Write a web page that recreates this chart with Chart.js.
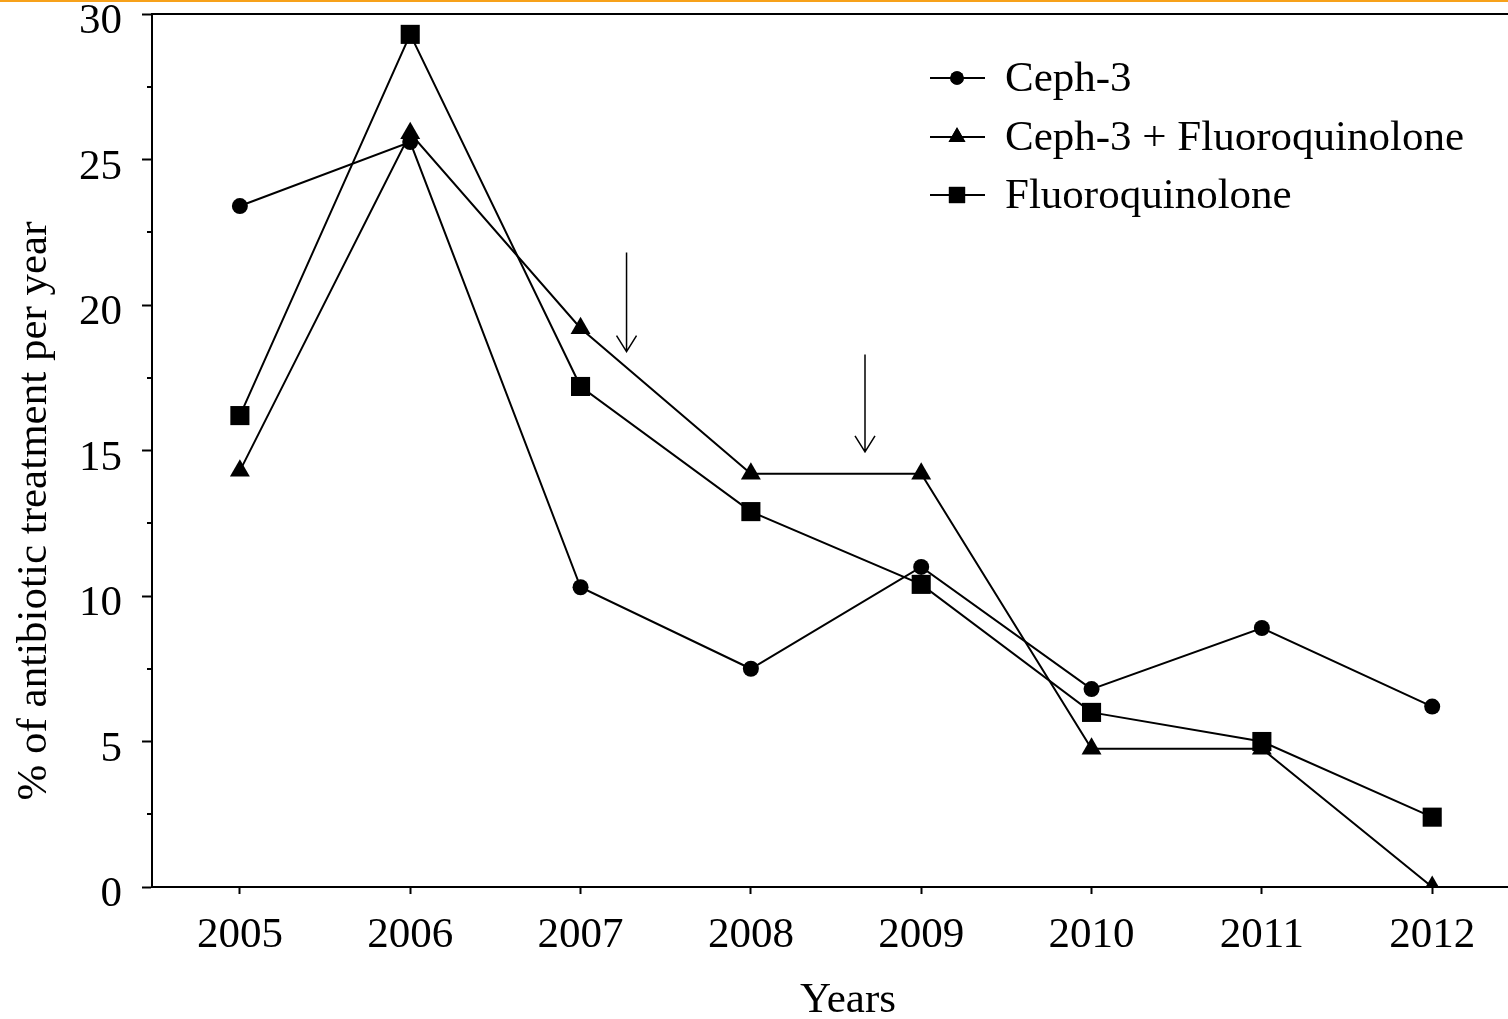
<!DOCTYPE html>
<html>
<head>
<meta charset="utf-8">
<title>Antibiotic treatment per year</title>
<script src="https://cdn.jsdelivr.net/npm/chart.js@4/dist/chart.umd.min.js"></script>
<style>
  html, body { margin: 0; padding: 0; background: #fff; overflow: hidden; }
  .topline { position: absolute; left: 0; top: 0; width: 1508px; height: 2px; background: #F7A11A; }
  .wrap { position: absolute; left: 0; top: 0; width: 1508px; height: 1019px; }
</style>
</head>
<body>
<div class="wrap"><canvas id="chart"></canvas></div>
<div class="topline"></div>
<script>
// Data
const years = [2005, 2006, 2007, 2008, 2009, 2010, 2011, 2012];
const ceph3 = [23.4, 25.6, 10.3, 7.5, 11.0, 6.8, 8.9, 6.2];
const ceph3Fq = [14.3, 25.9, 19.2, 14.2, 14.2, 4.75, 4.75, 0];
const fluoroq = [16.2, 29.3, 17.2, 12.9, 10.4, 6.0, 5.0, 2.4];
const yTicks = [0, 5, 10, 15, 20, 25, 30];
const yMinorTicks = [2.5, 7.5, 12.5, 17.5, 22.5, 27.5];

// Arrows marking interventions: [x, yFrom, yTo]
const arrows = [
  [2007.27, 21.8, 18.4],
  [2008.67, 18.3, 14.95]
];

const FONT = '"Liberation Serif", "Times New Roman", serif';
const FONT_SIZE = 43;

function toPoints(values) {
  return years.map((yr, i) => ({ x: yr, y: values[i] }));
}

// Minor ticks, top border, arrows, legend and axis titles
const extras = {
  id: 'extras',
  afterDraw(chart) {
    const ctx = chart.ctx;
    const area = chart.chartArea;
    const xs = chart.scales.x;
    const ys = chart.scales.y;
    ctx.save();
    ctx.strokeStyle = '#000';
    ctx.fillStyle = '#000';

    // top border
    ctx.lineWidth = 2;
    ctx.beginPath();
    ctx.moveTo(area.left, area.top);
    ctx.lineTo(area.right, area.top);
    ctx.stroke();

    // minor y ticks
    yMinorTicks.forEach(v => {
      const py = Math.round(ys.getPixelForValue(v));
      ctx.beginPath();
      ctx.moveTo(area.left - 5, py);
      ctx.lineTo(area.left, py);
      ctx.stroke();
    });

    // arrows
    ctx.lineWidth = 1.5;
    arrows.forEach(a => {
      const px = xs.getPixelForValue(a[0]);
      const y1 = ys.getPixelForValue(a[1]);
      const y2 = ys.getPixelForValue(a[2]);
      ctx.beginPath();
      ctx.moveTo(px, y1);
      ctx.lineTo(px, y2);
      ctx.moveTo(px - 10, y2 - 16);
      ctx.lineTo(px, y2);
      ctx.lineTo(px + 10, y2 - 16);
      ctx.stroke();
    });

    // legend
    ctx.font = FONT_SIZE + 'px ' + FONT;
    ctx.textBaseline = 'middle';
    ctx.textAlign = 'left';
    const rows = [78, 137, 195];
    chart.data.datasets.forEach((ds, i) => {
      const cy = rows[i];
      ctx.lineWidth = 2;
      ctx.beginPath();
      ctx.moveTo(930, cy);
      ctx.lineTo(985, cy);
      ctx.stroke();
      Chart.helpers.drawPoint(ctx, {
        pointStyle: ds.pointStyle,
        radius: ds.pointRadius * 0.85,
        borderWidth: 0
      }, 957, cy);
      ctx.fill();
      ctx.fillText(ds.label, 1005, cy + 2);
    });

    // axis titles
    ctx.textAlign = 'center';
    ctx.textBaseline = 'alphabetic';
    ctx.fillText('Years', 848, 1012);
    ctx.translate(46, 511);
    ctx.rotate(-Math.PI / 2);
    ctx.fillText('% of antibiotic treatment per year', 0, 0);
    ctx.restore();
  }
};

new Chart(document.getElementById('chart'), {
  type: 'line',
  data: {
    datasets: [
      {
        label: 'Ceph-3',
        data: toPoints(ceph3),
        borderColor: '#000',
        backgroundColor: '#000',
        borderWidth: 2,
        pointStyle: 'circle',
        pointRadius: 8,
        pointBorderWidth: 0,
        pointBackgroundColor: '#000'
      },
      {
        label: 'Ceph-3 + Fluoroquinolone',
        data: toPoints(ceph3Fq),
        borderColor: '#000',
        backgroundColor: '#000',
        borderWidth: 2,
        pointStyle: 'triangle',
        pointRadius: 11.5,
        pointBorderWidth: 0,
        pointBackgroundColor: '#000'
      },
      {
        label: 'Fluoroquinolone',
        data: toPoints(fluoroq),
        borderColor: '#000',
        backgroundColor: '#000',
        borderWidth: 2,
        pointStyle: 'rect',
        pointRadius: 13.5,
        pointBorderWidth: 0,
        pointBackgroundColor: '#000'
      }
    ]
  },
  options: {
    responsive: true,
    maintainAspectRatio: false,
    animation: false,
    layout: { autoPadding: false, padding: { top: 14, right: 0, left: 0, bottom: 0 } },
    plugins: {
      legend: { display: false },
      tooltip: { enabled: false }
    },
    elements: { line: { tension: 0 } },
    scales: {
      x: {
        type: 'linear',
        min: 2004.484,
        max: 2012.445,
        afterBuildTicks: scale => { scale.ticks = years.map(v => ({ value: v })); },
        afterFit: scale => {
          scale.height = 132;
          scale.paddingLeft = 0;
          scale.paddingRight = 0;
        },
        border: { display: true, color: '#000', width: 2 },
        grid: { drawOnChartArea: false, tickLength: 7, tickColor: '#000', tickWidth: 2 },
        ticks: {
          color: '#000',
          padding: 16,
          maxRotation: 0,
          autoSkip: false,
          font: { family: FONT, size: FONT_SIZE },
          callback: v => String(v)
        }
      },
      y: {
        min: 0,
        max: 30,
        afterBuildTicks: scale => { scale.ticks = yTicks.map(v => ({ value: v })); },
        afterFit: scale => {
          scale.width = 152;
          scale.paddingTop = 0;
          scale.paddingBottom = 0;
        },
        border: { display: true, color: '#000', width: 2 },
        grid: { drawOnChartArea: false, tickLength: 10, tickColor: '#000', tickWidth: 2 },
        ticks: {
          color: '#000',
          padding: 20,
          labelOffset: 8,
          font: { family: FONT, size: FONT_SIZE },
          callback: v => String(v)
        }
      }
    }
  },
  plugins: [extras]
});
</script>
</body>
</html>
